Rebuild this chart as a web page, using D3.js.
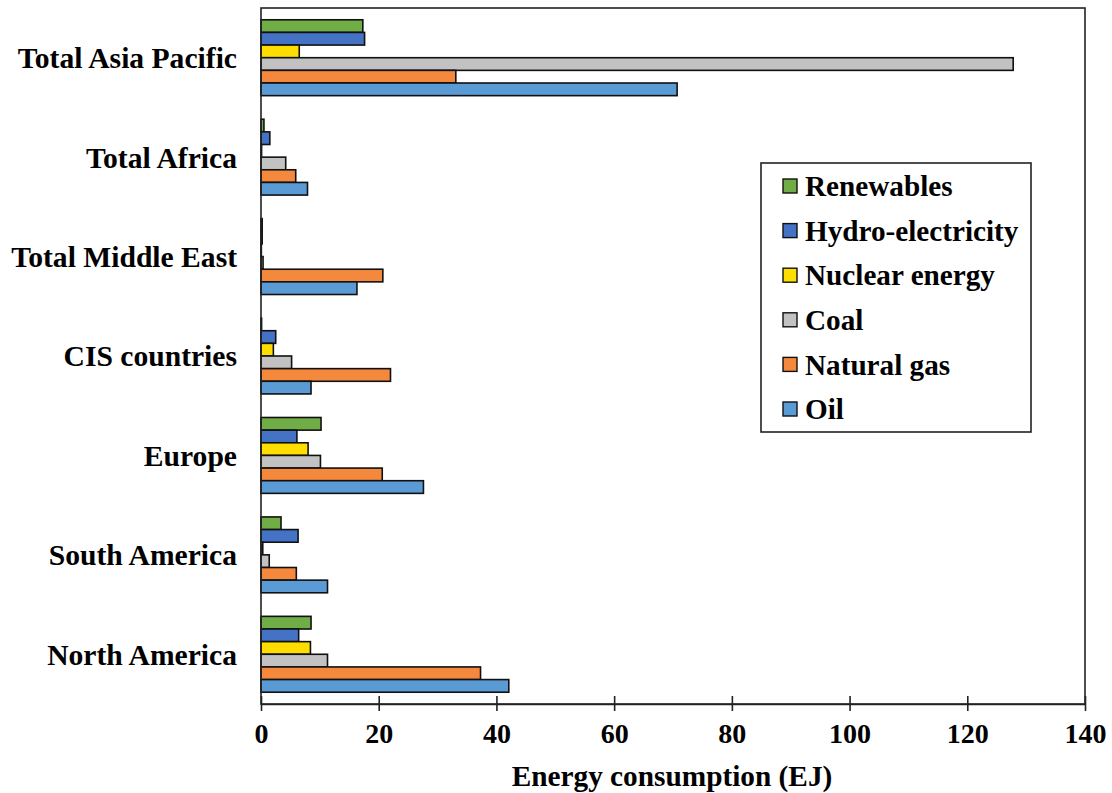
<!DOCTYPE html>
<html>
<head>
<meta charset="utf-8">
<script src="https://cdn.jsdelivr.net/npm/d3@7"></script>
<style>
  body { margin: 0; background: #fff; }
  svg text { font-family: "Liberation Serif", "Times New Roman", serif; font-weight: bold; fill: #000; }
</style>
</head>
<body>
<div id="chart"></div>
<script>
// regions, top to bottom
const regions = ["Total Asia Pacific", "Total Africa", "Total Middle East", "CIS countries",
  "Europe", "South America", "North America"];

// sources, in the order the bars are stacked inside a group (top first)
const sources = ["Renewables", "Hydro-electricity", "Nuclear energy", "Coal", "Natural gas", "Oil"];

// values in EJ, one per region (same order as regions)
const renewables = [17.3, 0.5, 0.2, 0.1, 10.2, 3.4, 8.5];
const hydro      = [17.6, 1.5, 0.2, 2.5, 6.1, 6.3, 6.4];
const nuclear    = [6.5, 0.1, 0.06, 2.1, 8.0, 0.3, 8.4];
const coal       = [127.8, 4.2, 0.35, 5.2, 10.1, 1.4, 11.3];
const naturalGas = [33.1, 5.9, 20.7, 22.0, 20.6, 6.0, 37.3];
const oil        = [70.7, 7.9, 16.3, 8.5, 27.6, 11.3, 42.1];

const xTicks = [0, 20, 40, 60, 80, 100, 120, 140];

const colors = ["#70ad47", "#4472c4", "#ffdd00", "#c2c2c2", "#f4883c", "#5b9bd5"];

const series = [renewables, hydro, nuclear, coal, naturalGas, oil];

const data = regions.map((r, i) => ({
  region: r,
  values: sources.map((s, j) => ({ source: s, value: series[j][i], col: colors[j] }))
}));

// canevas
const width = 1112;
const height = 793;
const plot = { left: 261, right: 1085, top: 8, bottom: 704 };

const svg = d3.select("#chart")
  .append("svg")
  .attr("width", width)
  .attr("height", height);

// scales
const scaleX = d3.scaleLinear()
  .domain([0, 140])
  .range([plot.left, plot.right]);

const scaleY = d3.scaleBand()
  .domain(regions)
  .range([plot.top, plot.bottom])
  .paddingInner(0.237)
  .paddingOuter(0.1185);

const scaleSub = d3.scaleBand()
  .domain(sources)
  .range([0, scaleY.bandwidth()]);

// bars
const groups = svg.selectAll(".group")
  .data(data)
  .join("g")
  .attr("class", "group")
  .attr("transform", d => `translate(0, ${scaleY(d.region)})`);

groups.selectAll("rect")
  .data(d => d.values)
  .join("rect")
  .attr("x", scaleX(0))
  .attr("y", d => scaleSub(d.source))
  .attr("width", d => scaleX(d.value) - scaleX(0))
  .attr("height", scaleSub.bandwidth())
  .attr("fill", d => d.col)
  .attr("stroke", "#111")
  .attr("stroke-width", 1.6);

// frame
svg.append("rect")
  .attr("x", plot.left)
  .attr("y", plot.top)
  .attr("width", plot.right - plot.left)
  .attr("height", plot.bottom - plot.top)
  .attr("fill", "none")
  .attr("stroke", "#222")
  .attr("stroke-width", 1.6);

// x axis
const xAxis = svg.append("g")
  .attr("transform", `translate(0, ${plot.bottom})`)
  .call(d3.axisBottom(scaleX).tickValues(xTicks).tickSize(7).tickSizeOuter(0))
  .call(g => g.select(".domain").attr("stroke", "#222").attr("stroke-width", 1.6));

xAxis.selectAll(".tick line")
  .attr("y1", -8)
  .attr("y2", 7)
  .attr("stroke", "#222")
  .attr("stroke-width", 1.6);

xAxis.selectAll(".tick text")
  .attr("y", 39)
  .attr("dy", 0)
  .style("font-size", "28px")
  .style("font-family", "'Liberation Serif', serif")
  .style("font-weight", "bold");

svg.append("text")
  .attr("x", (plot.left + plot.right) / 2 - 1)
  .attr("y", 786)
  .attr("text-anchor", "middle")
  .style("font-size", "29.3px")
  .text("Energy consumption (EJ)");

// region labels
svg.selectAll(".cat")
  .data(regions)
  .join("text")
  .attr("class", "cat")
  .attr("x", 237)
  .attr("y", d => scaleY(d) + scaleY.bandwidth() / 2)
  .attr("dy", "0.35em")
  .attr("text-anchor", "end")
  .style("font-size", "29.6px")
  .text(d => d);

// legend
const legendBox = { x: 761, y: 163, w: 270, h: 269 };

svg.append("rect")
  .attr("x", legendBox.x)
  .attr("y", legendBox.y)
  .attr("width", legendBox.w)
  .attr("height", legendBox.h)
  .attr("fill", "#fff")
  .attr("stroke", "#222")
  .attr("stroke-width", 1.6);

const legend = svg.selectAll(".legend")
  .data(sources)
  .join("g")
  .attr("class", "legend")
  .attr("transform", (d, i) => `translate(${legendBox.x + 22}, ${legendBox.y + 23 + i * 44.6})`);

legend.append("rect")
  .attr("x", 0)
  .attr("y", -7)
  .attr("width", 14)
  .attr("height", 14)
  .attr("fill", (d, i) => colors[i])
  .attr("stroke", "#111")
  .attr("stroke-width", 1.4);

legend.append("text")
  .attr("x", 22)
  .attr("y", 0)
  .attr("dy", "0.35em")
  .style("font-size", "29.2px")
  .text(d => d);
</script>
</body>
</html>
